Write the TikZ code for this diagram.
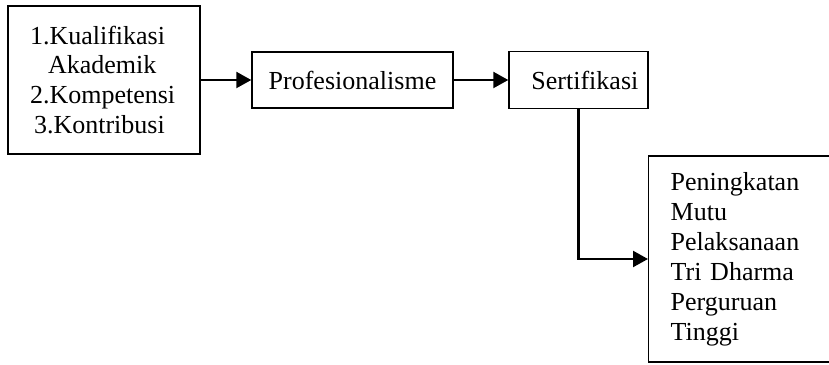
\documentclass[tikz,border=0pt]{standalone}
\usepackage{fontspec}
\setmainfont{Liberation Serif}
\usetikzlibrary{arrows.meta, positioning}

\begin{document}
\begin{tikzpicture}[
    box/.style = {rectangle, draw=black, line width=1pt, font=\fontsize{18.5}{21.3}\selectfont},
    listbox/.style = {box, align=left, inner xsep=0.55cm},
    arrow/.style = {line width=1.6pt, -{Triangle[length=0.375cm, width=0.4cm]}}
]
    \useasboundingbox (0,0) rectangle (20.725,9.125);
    \clip (0,0) rectangle (20.725,9.125);

    % Indicators
    \node[listbox, text width=3.7cm, minimum height=3.7cm] (indikator) at (2.6,7.125) {
        1.Kualifikasi\\
        \hspace*{0.45cm}Akademik\\
        2.Kompetensi\\
        \hspace*{0.1cm}3.Kontribusi
    };

    % Middle steps
    \node[box, minimum width=5.025cm, minimum height=1.4cm] (prof) at (8.8125,7.125) {Profesionalisme};
    \node[box, minimum width=3.475cm, minimum height=1.425cm] (sert) at (14.4625,7.125) {\hspace*{0.32cm}Sertifikasi};

    % Result (runs past the right edge)
    \node[listbox, anchor=west, text width=3.8cm, minimum height=5.15cm] (mutu) at (16.2,2.65) {
        Peningkatan\\
        Mutu\\
        Pelaksanaan\\
        Tri Dharma\\
        Perguruan\\
        Tinggi
    };

    % Flow arrows
    \draw[arrow] (indikator) -- (prof);
    \draw[arrow] (prof) -- (sert);
    \draw[arrow] (sert.south) |- (mutu.west);

\end{tikzpicture}
\end{document}
